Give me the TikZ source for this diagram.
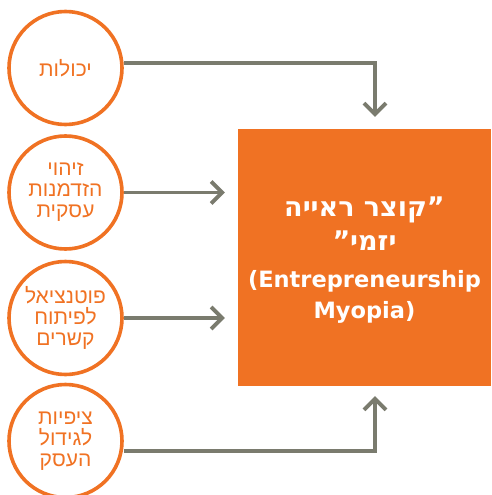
\documentclass[tikz,border=0pt]{standalone}
\usepackage{fontspec}
\usetikzlibrary{arrows.meta,calc}
\TeXXeTstate=1
\newfontfamily\hebfont[Script=Hebrew]{Liberation Sans}
\newfontfamily\boxfont[Script=Hebrew]{DejaVu Sans}
\definecolor{myorange}{HTML}{F07223}
\definecolor{mygray}{HTML}{7A7B6E}
\newcommand{\hebbig}{\fontsize{27}{29}\selectfont}
\newcommand{\engbig}{\fontsize{22.5}{29}\selectfont}
\tikzset{
  circ/.style={circle, draw=myorange, line width=3.6pt, minimum size=113pt, inner sep=0pt,
    text=myorange, align=center, font=\hebfont\fontsize{21}{20}\selectfont},
  bigbox/.style={rectangle, fill=myorange, minimum width=253pt, minimum height=257pt, inner sep=0pt},
  boxtext/.style={text=white, align=center, font=\boxfont\bfseries\fontsize{22.5}{29}\selectfont},
  arr/.style={draw=mygray, line width=3.8pt, -{Straight Barb[length=11pt,width=22pt,line width=3.8pt]}}
}
\begin{document}
\begin{tikzpicture}[x=1pt,y=-1pt]
\useasboundingbox (0,0) rectangle (491,495);
\node[bigbox] (b) at (364.5,257.5) {};
\node[boxtext] (t) at (364.5,260.5) {\hebbig\beginR ”קוצר ראייה\endR\\[5pt]\hebbig\beginR יזמי”\endR\\[8pt]\engbig(Entrepreneurship\\[2pt]\engbig Myopia)};
\node[circ] (c1) at (65.5,68) {\beginR יכולות\endR};
\node[circ] (c2) at (65.5,192.5) {\beginR זיהוי\endR\\[1pt]\beginR הזדמנות\endR\\[1pt]\beginR עסקית\endR};
\node[circ] (c3) at (65.5,318) {\beginR פוטנציאל\endR\\[1pt]\beginR לפיתוח\endR\\[1pt]\beginR קשרים\endR};
\node[circ] (c4) at (65.5,441) {\beginR ציפיות\endR\\[1pt]\beginR לגידול\endR\\[1pt]\beginR העסק\endR};
\draw[arr] ([yshift=5pt]c1.east) -| ([xshift=10.5pt,yshift=12pt]b.north);
\draw[arr] (c2.east) -- ($(b.west |- c2.east)+(-13,0)$);
\draw[arr] (c3.east) -- ($(b.west |- c3.east)+(-13,0)$);
\draw[arr] ([yshift=-10pt]c4.east) -| ([xshift=10.5pt,yshift=-10pt]b.south);
\end{tikzpicture}
\end{document}
